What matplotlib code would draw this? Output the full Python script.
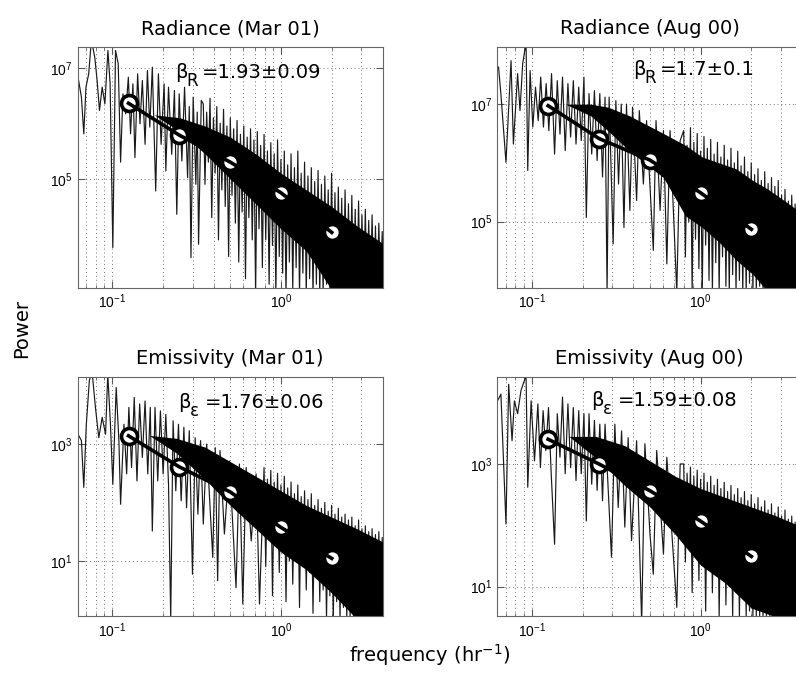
import numpy as np
import matplotlib.pyplot as plt
from matplotlib.ticker import FixedLocator, LogLocator, NullLocator, NullFormatter

plt.rcParams['font.family'] = 'DejaVu Sans'

# frequencies of the binned (averaged) spectral estimates, hr^-1
bin_freq = [0.125, 0.25, 0.5, 1.0, 2.0]

# the spectra as log10(freq), log10(power);
# the sparse low-frequency part vertex by vertex, the dense part as
# alternating spike tips (peaks) and dips (troughs)

# ---- Radiance (Mar 01)
rad_mar_logf = [
    -1.202, -1.182, -1.168, -1.155, -1.139, -1.123, -1.103, -1.089, -1.075, -1.059,
    -1.043, -1.025, -1.012, -0.996, -0.980, -0.964, -0.950, -0.936, -0.920, -0.904,
    -0.891, -0.877, -0.865, -0.849, -0.835, -0.821, -0.805, -0.791, -0.777, -0.762,
    -0.742, -0.726, -0.710, -0.692, -0.682, -0.666, -0.647, -0.631, -0.617, -0.603,
    -0.587, -0.571, -0.553, -0.543, -0.533, -0.520, -0.504, -0.496, -0.488, -0.472]
rad_mar_logp = [
    6.83, 6.47, 5.81, 6.65, 6.89, 7.5, 7.19, 6.77, 6.23, 6.65,
    6.35, 7.31, 6.71, 3.76, 7.31, 7.07, 5.30, 6.53, 6.17, 6.83,
    5.81, 6.71, 5.38, 6.89, 5.99, 6.77, 5.62, 6.95, 5.93, 7.01,
    4.78, 6.89, 5.62, 6.71, 5.14, 6.65, 5.44, 6.59, 4.36, 6.53,
    5.32, 6.65, 5.02, 6.3, 3.58, 6.47, 4.90, 6.2, 3.82, 6.41]
rad_mar_peak_logf = [
    -0.46, -0.44, -0.42, -0.40, -0.38, -0.36, -0.34, -0.32, -0.30, -0.28,
    -0.26, -0.24, -0.22, -0.20, -0.18, -0.16, -0.14, -0.12, -0.10, -0.08,
    -0.06, -0.04, -0.02, 0.00, 0.02, 0.04, 0.06, 0.08, 0.10, 0.12,
    0.14, 0.16, 0.18, 0.20, 0.22, 0.24, 0.26, 0.28, 0.30, 0.32,
    0.34, 0.36, 0.38, 0.40, 0.42, 0.44, 0.46, 0.48, 0.50, 0.52,
    0.54, 0.56, 0.58, 0.60, 0.62]
rad_mar_peak_logp = [
    6.35, 6.2, 6.45, 6.1, 6.3, 6.0, 6.25, 5.95, 6.1, 5.9,
    6.05, 5.8, 5.95, 5.75, 5.9, 5.7, 5.85, 5.6, 5.8, 5.5,
    5.65, 5.45, 5.7, 5.35, 5.5, 5.25, 5.45, 5.2, 5.5, 5.1,
    5.3, 5.05, 5.2, 4.95, 5.15, 4.9, 5.05, 4.8, 5.1, 4.75,
    4.85, 4.65, 4.8, 4.55, 4.7, 4.45, 4.6, 4.35, 4.45, 4.25,
    4.35, 4.15, 4.2, 4.05, 4.1]
rad_mar_trough_logf = [
    -0.45, -0.43, -0.41, -0.39, -0.37, -0.35, -0.33, -0.31, -0.29, -0.27,
    -0.25, -0.23, -0.21, -0.19, -0.17, -0.15, -0.13, -0.11, -0.09, -0.07,
    -0.05, -0.03, -0.01, 0.01, 0.03, 0.05, 0.07, 0.09, 0.11, 0.13,
    0.15, 0.17, 0.19, 0.21, 0.23, 0.25, 0.27, 0.29, 0.31, 0.33,
    0.35, 0.37, 0.39, 0.41, 0.43, 0.45, 0.47, 0.49, 0.51, 0.53,
    0.55, 0.57, 0.59, 0.61, 0.63]
rad_mar_trough_logp = [
    4.9, 5.3, 4.3, 5.1, 3.9, 4.8, 4.5, 3.6, 4.7, 4.2,
    3.5, 4.4, 3.2, 4.3, 3.9, 2.9, 4.1, 3.4, 3.9, 3.1,
    3.8, 2.9, 3.6, 3.3, 2.9, 3.5, 3.0, 3.4, 2.9, 3.3,
    2.9, 3.2, 2.9, 3.1, 2.9, 2.9, 3.1, 2.9, 2.9, 2.9,
    3.0, 2.9, 2.9, 2.9, 2.9, 2.9, 2.9, 2.9, 2.9, 2.9,
    2.9, 2.9, 2.9, 2.9, 2.9]
rad_mar_env_logf = [-0.75, -0.60, -0.45, -0.30, -0.15, 0.0, 0.15, 0.30, 0.45, 0.62]
rad_mar_env_hi = [6.15, 6.1, 5.95, 5.75, 5.45, 5.1, 4.8, 4.5, 4.15, 3.8]
rad_mar_env_lo = [6.15, 5.85, 5.45, 5.0, 4.55, 4.1, 3.7, 3.0, 3.0, 3.0]
rad_mar_bins = [2.29e6, 6.1e5, 2.0e5, 5.6e4, 1.08e4]

# dense-part frequency grid shared by the other three panels
dense_peak_logf = [
    -0.10, -0.08, -0.06, -0.04, -0.02, 0.00, 0.02, 0.04, 0.06, 0.08,
    0.10, 0.12, 0.14, 0.16, 0.18, 0.20, 0.22, 0.24, 0.26, 0.28,
    0.30, 0.32, 0.34, 0.36, 0.38, 0.40, 0.42, 0.44, 0.46, 0.48,
    0.50, 0.52, 0.54, 0.56, 0.58, 0.60, 0.62]
dense_trough_logf = [
    -0.09, -0.07, -0.05, -0.03, -0.01, 0.01, 0.03, 0.05, 0.07, 0.09,
    0.11, 0.13, 0.15, 0.17, 0.19, 0.21, 0.23, 0.25, 0.27, 0.29,
    0.31, 0.33, 0.35, 0.37, 0.39, 0.41, 0.43, 0.45, 0.47, 0.49,
    0.51, 0.53, 0.55, 0.57, 0.59, 0.61, 0.63]

# ---- Radiance (Aug 00)
rad_aug_logf = [
    -1.197, -1.183, -1.153, -1.123, -1.109, -1.084, -1.070, -1.054, -1.034, -1.024,
    -1.010, -0.994, -0.978, -0.962, -0.947, -0.931, -0.915, -0.899, -0.883, -0.865,
    -0.849, -0.833, -0.818, -0.802, -0.786, -0.770, -0.754, -0.738, -0.722, -0.707,
    -0.691, -0.677, -0.661, -0.645, -0.629, -0.613, -0.597, -0.581, -0.566, -0.554,
    -0.542, -0.518, -0.502, -0.486, -0.470, -0.454, -0.439, -0.419, -0.403, -0.379,
    -0.363, -0.339, -0.320, -0.280, -0.264, -0.240, -0.220, -0.200, -0.181, -0.141,
    -0.121]
rad_aug_logp = [
    7.63, 7.17, 6.01, 7.74, 6.32, 7.52, 6.89, 7.69, 8.05, 5.87,
    7.57, 6.61, 7.29, 6.72, 7.46, 6.61, 7.35, 6.55, 7.52, 6.15,
    7.40, 6.49, 7.46, 6.21, 7.35, 6.44, 7.40, 6.32, 7.29, 6.38,
    7.46, 5.07, 7.18, 6.15, 7.23, 6.04, 7.18, 5.76, 7.12, 3.8,
    7.12, 4.62, 7.06, 5.64, 7.0, 4.9, 7.0, 5.19, 6.95, 5.36,
    6.89, 5.64, 6.72, 4.51, 6.72, 5.19, 6.55, 4.28, 6.55, 3.8,
    6.38]
rad_aug_peak_logp = [
    6.55, 6.3, 6.6, 6.35, 6.5, 6.2, 6.45, 6.25, 6.4, 6.15,
    6.35, 6.1, 6.3, 6.05, 6.25, 6.0, 6.2, 5.95, 6.1, 5.85,
    6.0, 5.8, 5.9, 5.7, 5.85, 5.65, 5.75, 5.6, 5.7, 5.45,
    5.55, 5.35, 5.45, 5.3, 5.35, 5.2, 5.25]
rad_aug_trough_logp = [
    4.4, 5.0, 3.8, 4.7, 4.2, 3.8, 4.6, 4.0, 3.8, 4.3,
    3.8, 4.4, 3.9, 3.8, 4.1, 3.8, 4.0, 3.8, 3.8, 3.95,
    3.8, 3.8, 3.9, 3.8, 3.8, 3.8, 3.8, 3.8, 3.8, 3.8,
    3.8, 3.8, 3.8, 3.8, 3.8, 3.8, 3.8]
rad_aug_env_logf = [-0.80, -0.65, -0.55, -0.42, -0.22, -0.09, 0.01, 0.11, 0.21, 0.31, 0.40, 0.50, 0.62]
rad_aug_env_hi = [7.0, 7.0, 6.95, 6.8, 6.5, 6.3, 6.1, 6.0, 5.9, 5.7, 5.55, 5.35, 5.1]
rad_aug_env_lo = [7.0, 6.8, 6.55, 6.2, 5.75, 5.1, 4.9, 4.65, 4.35, 4.1, 3.8, 3.8, 3.8]
rad_aug_bins = [9.4e6, 2.6e6, 1.12e6, 3.1e5, 7.4e4]

# ---- Emissivity (Mar 01)
emi_mar_logf = [
    -1.202, -1.182, -1.168, -1.153, -1.135, -1.119, -1.099, -1.079, -1.059, -1.039,
    -1.026, -1.010, -0.996, -0.976, -0.960, -0.950, -0.930, -0.914, -0.901, -0.885,
    -0.869, -0.853, -0.837, -0.821, -0.805, -0.789, -0.774, -0.762, -0.746, -0.730,
    -0.714, -0.698, -0.682, -0.666, -0.653, -0.639, -0.623, -0.607, -0.591, -0.575,
    -0.559, -0.543, -0.524, -0.508, -0.492, -0.476, -0.460, -0.440, -0.404, -0.389,
    -0.375, -0.361, -0.335, -0.305, -0.266, -0.246, -0.226, -0.206, -0.176, -0.147,
    -0.127]
emi_mar_logp = [
    3.17, 3.06, 2.26, 3.34, 4.09, 4.25, 3.63, 3.11, 3.46, 3.17,
    4.2, 3.34, 2.31, 3.97, 3.06, 1.97, 3.34, 2.49, 3.63, 2.60,
    3.80, 2.37, 3.69, 2.77, 3.74, 2.49, 3.63, 1.51, 3.63, 2.37,
    3.57, 2.49, 3.51, 2.31, 0.0, 3.40, 2.20, 3.34, 2.03, 3.29,
    1.91, 3.23, 0.77, 3.11, 1.80, 3.06, 1.63, 3.0, 1.06, 2.94,
    0.66, 2.89, 1.46, 2.71, 0.54, 2.66, 0.26, 2.60, 1.34, 2.49,
    0.26]
emi_mar_peak_logp = [
    2.6, 2.4, 2.55, 2.35, 2.5, 2.3, 2.45, 2.25, 2.35, 2.15,
    2.3, 2.1, 2.2, 2.05, 2.15, 1.95, 2.05, 1.9, 2.0, 1.85,
    1.95, 1.8, 1.9, 1.75, 1.8, 1.7, 1.75, 1.6, 1.7, 1.55,
    1.6, 1.5, 1.55, 1.45, 1.5, 1.4, 1.45]
emi_mar_trough_logp = [
    0.9, 1.5, 0.4, 1.3, 0.8, 1.2, 0.3, 1.0, 0.6, 1.0,
    0.2, 0.9, 0.5, 0.8, 0.1, 0.7, 0.3, 0.5, 0.0, 0.4,
    0.0, 0.3, 0.0, 0.2, 0.0, 0.0, 0.0, 0.0, 0.0, 0.0,
    0.0, 0.0, 0.0, 0.0, 0.0, 0.0, 0.0]
emi_mar_env_logf = [-0.78, -0.62, -0.45, -0.30, -0.15, 0.0, 0.15, 0.30, 0.45, 0.62]
emi_mar_env_hi = [3.15, 3.1, 2.95, 2.7, 2.45, 2.2, 1.95, 1.75, 1.55, 1.3]
emi_mar_env_lo = [3.15, 2.85, 2.4, 1.95, 1.55, 1.15, 0.85, 0.45, 0.0, 0.0]
emi_mar_bins = [1.39e3, 408, 152, 37.4, 11]

# ---- Emissivity (Aug 00)
emi_aug_logf = [
    -1.203, -1.183, -1.153, -1.137, -1.117, -1.103, -1.084, -1.064, -1.044, -1.034,
    -1.024, -1.004, -0.984, -0.964, -0.949, -0.933, -0.917, -0.901, -0.885, -0.865,
    -0.849, -0.833, -0.818, -0.802, -0.786, -0.770, -0.754, -0.738, -0.722, -0.707,
    -0.691, -0.677, -0.661, -0.645, -0.629, -0.613, -0.597, -0.581, -0.566, -0.528,
    -0.508, -0.488, -0.468, -0.449, -0.429, -0.409, -0.379, -0.349, -0.330, -0.300,
    -0.280, -0.260, -0.220, -0.200, -0.141, -0.121]
emi_aug_logp = [
    4.03, 4.14, 2.02, 4.30, 3.38, 4.03, 3.82, 4.20, 4.36, 4.45,
    2.62, 4.03, 3.05, 3.98, 2.94, 3.87, 3.22, 3.92, 2.84, 1.69,
    3.82, 3.11, 4.09, 2.84, 3.98, 2.94, 3.92, 2.73, 3.87, 2.84,
    3.82, 2.07, 3.82, 2.67, 3.71, 2.57, 3.65, 2.40, 3.65, 1.48,
    3.65, 2.29, 3.54, 1.97, 3.43, 1.75, 3.38, 0.4, 3.33, 1.86,
    1.2, 3.22, 1.53, 3.11, 0.66, 3.0]
emi_aug_peak_logp = [
    3.0, 2.85, 2.95, 2.8, 2.9, 2.75, 2.85, 2.7, 2.8, 2.65,
    2.75, 2.6, 2.7, 2.55, 2.65, 2.5, 2.6, 2.45, 2.55, 2.4,
    2.5, 2.35, 2.45, 2.3, 2.4, 2.25, 2.35, 2.2, 2.3, 2.15,
    2.25, 2.1, 2.15, 2.05, 2.1, 2.0, 2.05]
emi_aug_trough_logp = [
    1.4, 1.9, 0.9, 1.6, 1.1, 1.5, 0.6, 1.3, 0.9, 1.2,
    0.5, 1.1, 0.7, 1.0, 0.5, 0.9, 0.5, 0.8, 0.5, 0.6,
    0.5, 0.5, 0.5, 0.5, 0.5, 0.5, 0.5, 0.5, 0.5, 0.5,
    0.5, 0.5, 0.5, 0.5, 0.5, 0.5, 0.5]
emi_aug_env_logf = [-0.78, -0.62, -0.45, -0.30, -0.15, 0.0, 0.15, 0.30, 0.45, 0.62]
emi_aug_env_hi = [3.45, 3.45, 3.3, 3.05, 2.8, 2.6, 2.45, 2.3, 2.15, 1.95]
emi_aug_env_lo = [3.45, 3.1, 2.65, 2.3, 1.85, 1.35, 1.05, 0.65, 0.5, 0.5]
emi_aug_bins = [2.53e3, 1.0e3, 367, 117, 31]

titles = ['Radiance (Mar 01)', 'Radiance (Aug 00)', 'Emissivity (Mar 01)', 'Emissivity (Aug 00)']
beta_sub = ['R', 'R', 'ε', 'ε']
beta_val = ['=1.93±0.09', '=1.7±0.1', '=1.76±0.06', '=1.59±0.08']
ylims = [(1.09e3, 2.39e7), (7.5e3, 9.5e7), (1.13, 1.43e4), (3.3, 2.65e4)]
yticks = [[1e3, 1e5, 1e7], [1e5, 1e7], [1e1, 1e3], [1e1, 1e3]]

panels = [
    (rad_mar_logf, rad_mar_logp, rad_mar_peak_logf, rad_mar_peak_logp,
     rad_mar_trough_logf, rad_mar_trough_logp,
     rad_mar_env_logf, rad_mar_env_hi, rad_mar_env_lo, rad_mar_bins),
    (rad_aug_logf, rad_aug_logp, dense_peak_logf, rad_aug_peak_logp,
     dense_trough_logf, rad_aug_trough_logp,
     rad_aug_env_logf, rad_aug_env_hi, rad_aug_env_lo, rad_aug_bins),
    (emi_mar_logf, emi_mar_logp, dense_peak_logf, emi_mar_peak_logp,
     dense_trough_logf, emi_mar_trough_logp,
     emi_mar_env_logf, emi_mar_env_hi, emi_mar_env_lo, emi_mar_bins),
    (emi_aug_logf, emi_aug_logp, dense_peak_logf, emi_aug_peak_logp,
     dense_trough_logf, emi_aug_trough_logp,
     emi_aug_env_logf, emi_aug_env_hi, emi_aug_env_lo, emi_aug_bins),
]

rects = [[0.0976, 0.575, 0.383, 0.356], [0.6248, 0.575, 0.383, 0.356],
         [0.0976, 0.090, 0.383, 0.3535], [0.6248, 0.090, 0.383, 0.3535]]
text_pos = [(0.318, 0.869), (0.444, 0.883), (0.329, 0.868), (0.308, 0.877)]
val_offset = [27, 27, 27, 27]

fig = plt.figure(figsize=(7.96, 6.77), dpi=100)

for i, (logf, logp, pk_f, pk_p, tr_f, tr_p, env_f, env_hi, env_lo, bins) in enumerate(panels):
    ax = fig.add_axes(rects[i])
    # join the traced part with the interleaved peaks / troughs
    dense_f = np.column_stack([pk_f, tr_f]).ravel()
    dense_p = np.column_stack([pk_p, tr_p]).ravel()
    f = 10 ** np.concatenate([logf, dense_f])
    p = 10 ** np.concatenate([logp, dense_p])
    ax.loglog(f, p, color='0.1', lw=0.85, zorder=2)
    ax.fill_between(10 ** np.array(env_f), 10 ** np.array(env_lo), 10 ** np.array(env_hi),
                    color='k', lw=0, zorder=2)
    ax.plot(bin_freq, bins, 'o', ms=11.5, mfc='w', mec='k', mew=2.6, zorder=3)
    ax.plot(bin_freq, bins, '-', color='k', lw=2.6, zorder=4)

    ax.set_xlim(1 / 16, 4)
    ax.set_ylim(*ylims[i])
    ax.xaxis.set_major_locator(FixedLocator([0.1, 1.0]))
    ax.xaxis.set_minor_locator(LogLocator(base=10, subs=np.arange(2, 10)))
    ax.xaxis.set_minor_formatter(NullFormatter())
    ax.yaxis.set_major_locator(FixedLocator(yticks[i]))
    ax.yaxis.set_minor_locator(NullLocator())

    ax.grid(True, which='both', axis='x', ls=(0, (1, 3)), color='0.45', lw=0.7)
    ax.grid(True, which='major', axis='y', ls=(0, (1, 3)), color='0.45', lw=0.7)
    ax.tick_params(which='both', direction='in', top=True, right=True, color='0.35')
    ax.tick_params(which='major', length=5, labelsize=10, labelfontfamily='Liberation Sans')
    ax.tick_params(which='minor', length=2.5)
    for s in ax.spines.values():
        s.set_color('0.4')

    ax.set_title(titles[i], fontsize=14, pad=9)
    ax.annotate('β', xy=text_pos[i], xycoords='axes fraction', fontsize=14,
                va='baseline', ha='left', zorder=6)
    ax.annotate(beta_sub[i], xy=text_pos[i], xycoords='axes fraction',
                xytext=(12, -8), textcoords='offset pixels', fontsize=12,
                va='baseline', ha='left', zorder=6)
    ax.annotate(beta_val[i], xy=text_pos[i], xycoords='axes fraction',
                xytext=(val_offset[i], 0), textcoords='offset pixels', fontsize=14,
                va='baseline', ha='left', zorder=6)

fig.text(0.027, 0.515, 'Power', rotation=90, fontsize=14, ha='center', va='center')
fig.text(0.54, 0.032, 'frequency (hr$^{\\mathregular{-1}}$)', fontsize=14, ha='center', va='center')

fig.savefig('out.png', dpi=100)
